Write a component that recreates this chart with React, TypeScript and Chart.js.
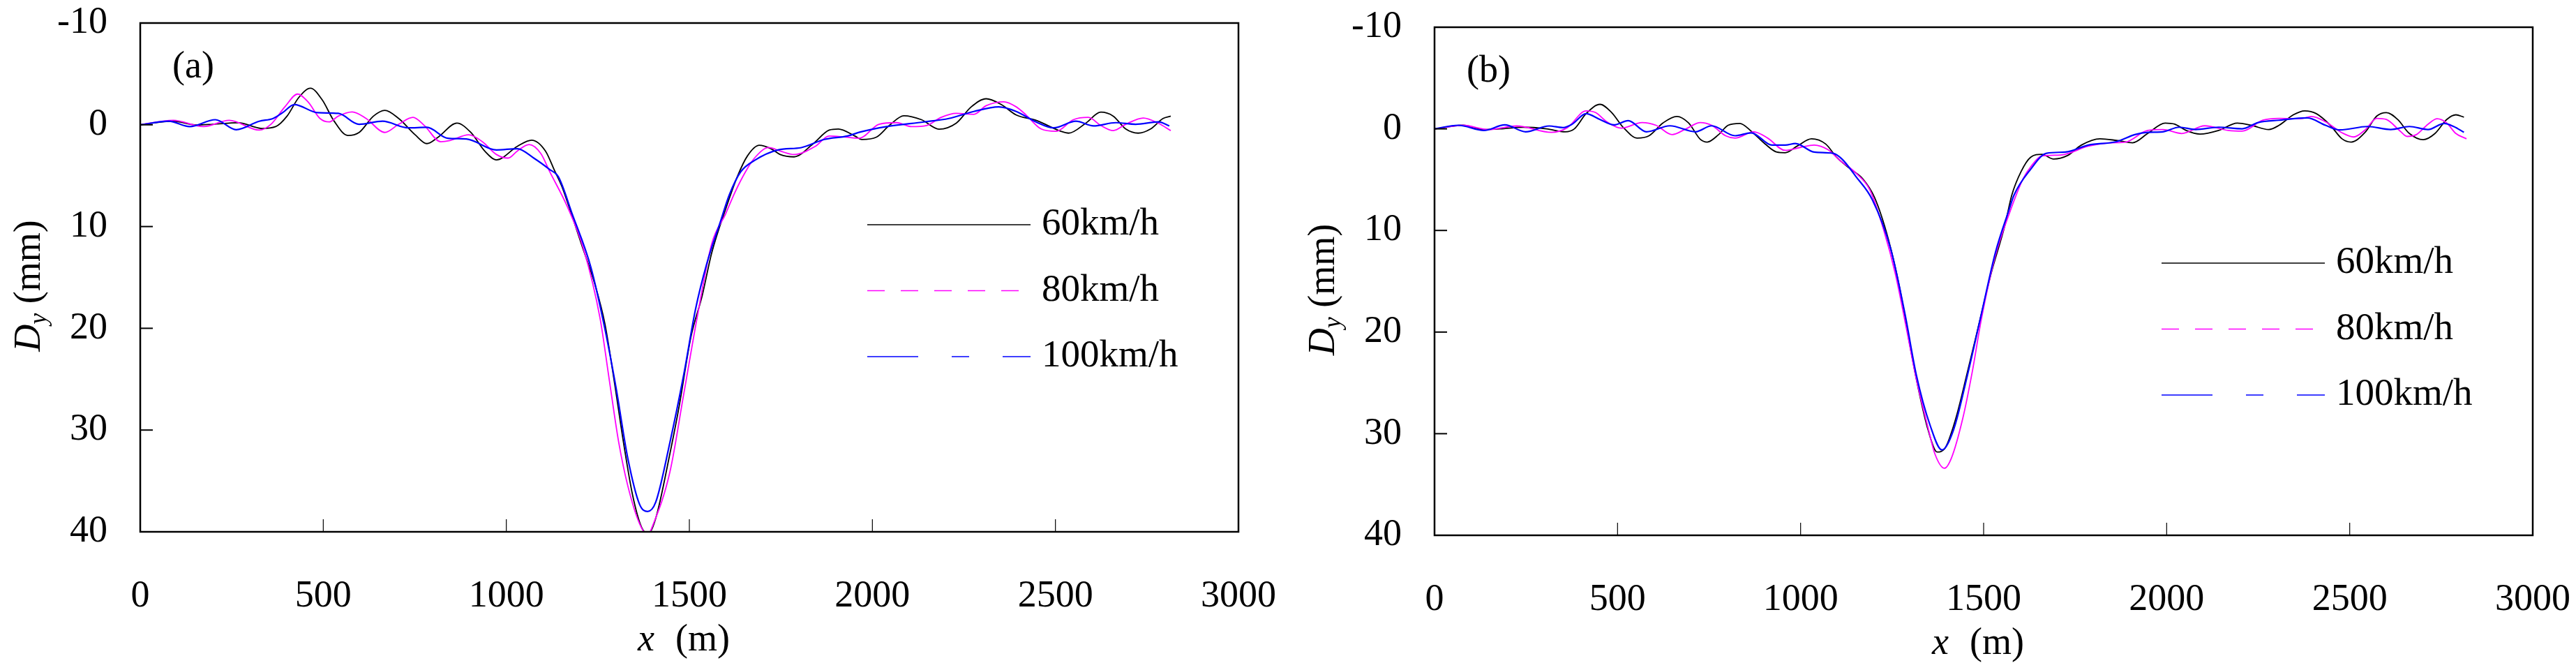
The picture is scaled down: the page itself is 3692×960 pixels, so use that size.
import { useEffect, useRef } from "react";
import { Chart, registerables } from "chart.js";

Chart.register(...registerables);

type Pt = [number, number];

const xTicks = [0, 500, 1000, 1500, 2000, 2500, 3000];
const yTicks = [-10, 0, 10, 20, 30, 40];
const speeds = ["60km/h", "80km/h", "100km/h"];
const colors = ["#000000", "#ff00ff", "#0000ff"];
const legendDash = [[], [25, 23], [73, 48, 25, 48]];

// panel (a): x (m), Dy (mm)
const a60: Pt[] = [
  [0, 0], [90, -0.35], [154, 0.02], [198, -0.05], [268, -0.2], [332, 0.36], [370, 0.18], [401, -0.85],
  [433, -2.68], [465, -3.59], [497, -2.45], [529, -0.39], [567, 1.05], [598, 0.75], [637, -0.85],
  [668, -1.42], [706, -0.62], [751, 0.98], [783, 1.85], [814, 1.21], [865, -0.16], [903, 0.75],
  [941, 2.58], [973, 3.45], [1030, 2.12], [1069, 1.51], [1107, 2.58], [1132, 4.52], [1151, 6.0],
  [1167, 7.61], [1205, 11.7], [1243, 15.8], [1269, 19.5], [1294, 25.0], [1320, 31.2], [1345, 36.4],
  [1370, 39.6], [1388, 40.2], [1408, 38.7], [1447, 32.3], [1472, 27.7], [1504, 20.9], [1535, 16.8],
  [1561, 12.6], [1599, 8.3], [1631, 5.1], [1659, 3.04], [1691, 2.01], [1723, 2.35], [1748, 2.92],
  [1786, 3.15], [1837, 1.9], [1882, 0.52], [1907, 0.41], [1952, 1.1], [1971, 1.44], [2011, 1.21],
  [2046, 0.07], [2086, -0.89], [2134, -0.5], [2182, 0.43], [2229, -0.16], [2270, -1.76], [2311, -2.56],
  [2352, -1.99], [2393, -0.96], [2447, -0.44], [2515, 0.64], [2536, 0.82], [2583, -0.16], [2624, -1.24],
  [2658, -0.85], [2692, 0.41], [2726, 0.82], [2760, 0.41], [2794, -0.62], [2815, -0.85],
];
const a80: Pt[] = [
  [0, 0], [90, -0.44], [173, 0.18], [243, -0.44], [325, 0.52], [357, -0.05], [395, -1.76], [430, -3.02],
  [459, -2.22], [491, -0.62], [516, -0.28], [541, -0.85], [579, -1.26], [617, -0.62], [668, 0.75],
  [706, -0.05], [745, -0.73], [776, 0.07], [821, 1.67], [846, 1.55], [897, 0.98], [935, 1.67],
  [973, 2.92], [1005, 3.27], [1030, 2.58], [1062, 1.94], [1094, 2.81], [1119, 4.64], [1167, 8.07],
  [1211, 12.2], [1256, 19.0], [1281, 25.0], [1307, 31.2], [1332, 35.5], [1364, 39.2], [1386, 40.3],
  [1402, 39.2], [1447, 34.1], [1485, 26.4], [1523, 18.6], [1561, 11.7], [1599, 8.76], [1625, 6.6],
  [1653, 4.64], [1678, 3.27], [1717, 2.24], [1748, 2.58], [1786, 2.92], [1844, 2.12], [1882, 1.1],
  [1926, 1.21], [1964, 1.32], [2018, -0.05], [2066, -0.21], [2107, 0.18], [2148, 0.07], [2188, -0.73],
  [2229, -1.12], [2277, -1.03], [2311, -1.88], [2359, -2.26], [2393, -1.76], [2420, -0.96], [2461, 0.41],
  [2502, 0.64], [2549, -0.5], [2590, -0.73], [2624, 0.07], [2658, 0.57], [2692, -0.05], [2740, -0.67],
  [2781, -0.16], [2815, 0.57],
];
const a100: Pt[] = [
  [0, 0], [78, -0.35], [135, 0.18], [205, -0.5], [262, 0.48], [325, -0.35], [363, -0.62], [389, -1.19],
  [421, -1.99], [484, -1.19], [541, -1.12], [598, -0.05], [662, -0.35], [732, 0.3], [783, 0.25],
  [840, 1.32], [891, 1.39], [973, 2.47], [1030, 2.35], [1075, 3.27], [1119, 4.41], [1142, 5.1],
  [1180, 8.76], [1231, 14.0], [1269, 20.0], [1300, 25.9], [1332, 32.8], [1364, 37.3], [1386, 38.0],
  [1408, 37.1], [1447, 31.2], [1485, 24.5], [1517, 18.1], [1548, 13.6], [1586, 9.4], [1609, 6.9],
  [1640, 4.64], [1678, 3.5], [1742, 2.47], [1806, 2.24], [1869, 1.44], [1932, 1.1], [1967, 0.71],
  [2039, 0.18], [2141, -0.28], [2209, -0.62], [2277, -1.31], [2345, -1.76], [2393, -1.31], [2447, -0.28],
  [2495, 0.3], [2556, -0.35], [2604, 0.11], [2665, -0.21], [2719, -0.05], [2781, -0.28], [2811, 0.11],
];

// panel (b)
const b60: Pt[] = [
  [0, 0], [78, -0.35], [135, 0.07], [179, 0], [243, -0.16], [306, 0], [357, 0.29], [382, 0], [414, -1.49],
  [452, -2.41], [484, -1.6], [516, -0.12], [554, 0.91], [586, 0.68], [624, -0.58], [662, -1.22],
  [694, -0.58], [726, 1.03], [745, 1.3], [776, 0.57], [802, -0.35], [834, -0.53], [865, 0.23],
  [903, 1.49], [935, 2.29], [958, 2.35], [992, 1.67], [1030, 0.98], [1068, 1.48], [1100, 2.86],
  [1138, 4.0], [1170, 4.92], [1202, 6.75], [1240, 10.9], [1272, 15.9], [1297, 21.0], [1323, 25.8],
  [1348, 29.6], [1373, 31.8], [1393, 31.5], [1424, 28.5], [1456, 23.9], [1488, 19.1], [1520, 14.3],
  [1558, 9.5], [1577, 6.52], [1602, 4.23], [1628, 2.81], [1659, 2.51], [1691, 2.97], [1729, 2.63],
  [1767, 1.6], [1818, 0.98], [1863, 1.14], [1907, 1.37], [1948, 0.46], [1996, -0.57], [2022, -0.46],
  [2053, 0.16], [2091, 0.52], [2142, 0.16], [2193, -0.57], [2231, -0.35], [2279, 0.07], [2307, -0.35],
  [2346, -1.38], [2377, -1.77], [2409, -1.49], [2447, -0.35], [2479, 0.98], [2504, 1.3], [2542, 0.34],
  [2574, -1.26], [2600, -1.6], [2631, -0.92], [2663, 0.46], [2701, 1.07], [2733, 0.46], [2765, -0.92],
  [2790, -1.38], [2812, -1.15],
];
const b80: Pt[] = [
  [0, 0], [78, -0.35], [147, 0.07], [224, -0.28], [319, 0.34], [363, -0.12], [414, -1.77], [440, -1.6],
  [471, -0.69], [510, -0.07], [567, -0.62], [605, -0.35], [649, 0.57], [687, 0], [726, -0.62],
  [757, -0.35], [795, 0.68], [821, 0.91], [872, 0.29], [910, 0.91], [958, 2.12], [999, 1.83],
  [1037, 1.6], [1075, 2.06], [1107, 3.09], [1151, 4.35], [1189, 6.0], [1227, 9.95], [1259, 14.3],
  [1291, 20.0], [1316, 24.6], [1348, 29.4], [1367, 32.0], [1393, 33.4], [1412, 32.4], [1443, 28.5],
  [1469, 23.9], [1494, 18.7], [1532, 12.5], [1570, 8.35], [1608, 4.9], [1628, 3.77], [1659, 2.67],
  [1710, 2.58], [1786, 1.71], [1850, 1.37], [1888, 1.3], [1948, 0.16], [1990, 0.07], [2041, 0.46],
  [2104, -0.3], [2168, 0.16], [2206, 0.23], [2263, -0.85], [2307, -1.03], [2365, -0.99], [2396, -1.22],
  [2434, -0.69], [2479, 0.39], [2511, 0.8], [2542, 0.11], [2574, -1.03], [2600, -0.92], [2638, 0.23],
  [2657, 0.75], [2682, 0.57], [2714, -0.46], [2739, -0.99], [2765, -0.57], [2790, 0.46], [2819, 0.98],
];
const b100: Pt[] = [
  [0, 0], [65, -0.35], [135, 0.16], [192, -0.39], [249, 0.29], [313, -0.28], [351, -0.12], [376, -0.46],
  [414, -1.49], [452, -0.92], [490, -0.39], [529, -0.8], [579, 0.29], [643, -0.3], [713, 0.29],
  [757, -0.3], [821, 0.68], [865, 0.39], [922, 1.6], [958, 1.6], [986, 1.44], [1037, 2.29], [1088, 2.4],
  [1113, 2.97], [1151, 4.69], [1196, 6.98], [1246, 11.8], [1285, 18.2], [1316, 24.2], [1354, 29.2],
  [1386, 31.6], [1418, 29.6], [1456, 24.2], [1494, 18.2], [1532, 12.2], [1570, 7.9], [1583, 6.52],
  [1628, 4.0], [1672, 2.4], [1723, 2.29], [1786, 1.6], [1863, 1.26], [1913, 0.57], [1948, 0.34],
  [1990, 0.29], [2034, -0.16], [2079, 0.07], [2142, -0.16], [2206, 0], [2250, -0.62], [2307, -0.85],
  [2384, -1.08], [2434, -0.35], [2473, 0.11], [2549, -0.23], [2612, 0.07], [2663, -0.23], [2714, 0.07],
  [2758, -0.53], [2784, -0.23], [2812, 0.34],
];

const W = 1846;
const H = 960;
const SERIF = "'Liberation Serif', 'Times New Roman', serif";
const FS = 54;

interface Area {
  left: number;
  right: number;
  top: number;
  bottom: number;
}

const decor = (label: string, legendTop: number) => ({
  id: "decor",
  afterDraw(chart: Chart) {
    const { ctx, chartArea: a, scales } = chart;
    const sx = scales.x;
    const sy = scales.y;
    const line = (x0: number, y0: number, x1: number, y1: number) => {
      ctx.beginPath();
      ctx.moveTo(x0, y0);
      ctx.lineTo(x1, y1);
      ctx.stroke();
    };
    ctx.save();
    ctx.strokeStyle = "#000";
    ctx.fillStyle = "#000";

    // frame + inner ticks
    ctx.lineWidth = 2.5;
    ctx.strokeRect(a.left, a.top, a.right - a.left, a.bottom - a.top);
    ctx.lineWidth = 2;
    yTicks.slice(1, -1).forEach((v) => {
      const py = sy.getPixelForValue(v);
      line(a.left, py, a.left + 18, py);
    });
    ctx.lineWidth = 1.2;
    xTicks.slice(1, -1).forEach((v) => {
      const px = sx.getPixelForValue(v);
      line(px, a.bottom, px, a.bottom - 18);
    });

    // panel label
    ctx.textBaseline = "middle";
    ctx.textAlign = "left";
    ctx.font = `${FS}px ${SERIF}`;
    ctx.fillText(label, a.left + 46, a.top + 64);

    // legend
    const lx0 = a.left + 1042;
    const lx1 = a.left + 1276;
    speeds.forEach((s, i) => {
      const ly = legendTop + i * 94.5;
      ctx.strokeStyle = colors[i];
      ctx.lineWidth = 1.3;
      ctx.setLineDash(legendDash[i]);
      line(lx0, ly, lx1, ly);
      ctx.setLineDash([]);
      ctx.fillStyle = "#000";
      ctx.font = `${FS + 1}px ${SERIF}`;
      ctx.fillText(s, lx1 + 16, ly);
    });

    // x title
    ctx.fillStyle = "#000";
    const ital = `italic ${FS}px ${SERIF}`;
    const reg = `${FS}px ${SERIF}`;
    ctx.font = ital;
    const wx = ctx.measureText("x").width;
    ctx.font = reg;
    const wm = ctx.measureText("(m)").width;
    const gap = 30;
    let tx = (a.left + a.right) / 2 - 8 - (wx + gap + wm) / 2;
    const ty = a.bottom + 156;
    ctx.font = ital;
    ctx.fillText("x", tx, ty);
    tx += wx + gap;
    ctx.font = reg;
    ctx.fillText("(m)", tx, ty);

    // y title, rotated
    const sub = `italic ${Math.round(FS * 0.66)}px ${SERIF}`;
    ctx.font = ital;
    const wD = ctx.measureText("D").width;
    ctx.font = sub;
    const wy = ctx.measureText("y").width;
    ctx.font = reg;
    const wmm = ctx.measureText(" (mm)").width;
    ctx.translate(a.left - 158, (a.top + a.bottom) / 2 + 12);
    ctx.rotate(-Math.PI / 2);
    let rx = -(wD + wy + wmm) / 2;
    ctx.font = ital;
    ctx.fillText("D", rx, 0);
    rx += wD;
    ctx.font = sub;
    ctx.fillText("y", rx, 14);
    rx += wy;
    ctx.font = reg;
    ctx.fillText(" (mm)", rx, 0);
    ctx.restore();
  },
});

const Panel = ({ label, series, area, legendTop }: { label: string; series: Pt[][]; area: Area; legendTop: number }) => {
  const canvasRef = useRef<HTMLCanvasElement>(null);

  useEffect(() => {
    if (!canvasRef.current) return;
    const font = { family: SERIF, size: FS };
    const chart = new Chart(canvasRef.current, {
      type: "line",
      data: {
        datasets: series.map((pts, i) => ({
          label: speeds[i],
          data: pts.map(([x, y]) => ({ x, y })),
          borderColor: colors[i],
          borderWidth: i === 2 ? 2.2 : 1.8,
          pointRadius: 0,
          cubicInterpolationMode: "monotone" as const,
          order: 2 - i,
        })),
      },
      options: {
        responsive: false,
        animation: false,
        devicePixelRatio: 1,
        layout: { padding: { top: area.top, right: W - area.right, left: 0, bottom: 0 } },
        plugins: { legend: { display: false }, tooltip: { enabled: false } },
        scales: {
          x: {
            type: "linear",
            min: 0,
            max: 3000,
            afterFit: (s: any) => {
              s.height = H - area.bottom;
              s.paddingLeft = 0;
              s.paddingRight = 0;
            },
            ticks: {
              stepSize: 500,
              padding: 60,
              font,
              color: "#000",
              maxRotation: 0,
              autoSkip: false,
              callback: (v: any) => String(v),
            },
            grid: { display: false, drawTicks: false },
            border: { display: false },
          },
          y: {
            type: "linear",
            min: -10,
            max: 40,
            reverse: true,
            afterFit: (s: any) => {
              s.width = area.left;
              s.paddingTop = 0;
              s.paddingBottom = 0;
            },
            ticks: { stepSize: 10, padding: 47, font, color: "#000", callback: (v: any) => String(v) },
            grid: { display: false, drawTicks: false },
            border: { display: false },
          },
        },
      },
      plugins: [decor(label, legendTop)],
    });
    return () => chart.destroy();
  }, [label, series, area, legendTop]);

  return <canvas ref={canvasRef} width={W} height={H} style={{ display: "block", width: W, height: H }} />;
};

const seriesA = [a60, a80, a100];
const seriesB = [b60, b80, b100];
const areaA: Area = { left: 201, right: 1775, top: 33, bottom: 762 };
const areaB: Area = { left: 210, right: 1784, top: 39, bottom: 767 };

export default function App() {
  return (
    <div style={{ position: "absolute", left: 0, top: 0, width: 2 * W, height: H, display: "flex", background: "#fff" }}>
      <Panel label="(a)" series={seriesA} area={areaA} legendTop={322} />
      <Panel label="(b)" series={seriesB} area={areaB} legendTop={377} />
    </div>
  );
}
